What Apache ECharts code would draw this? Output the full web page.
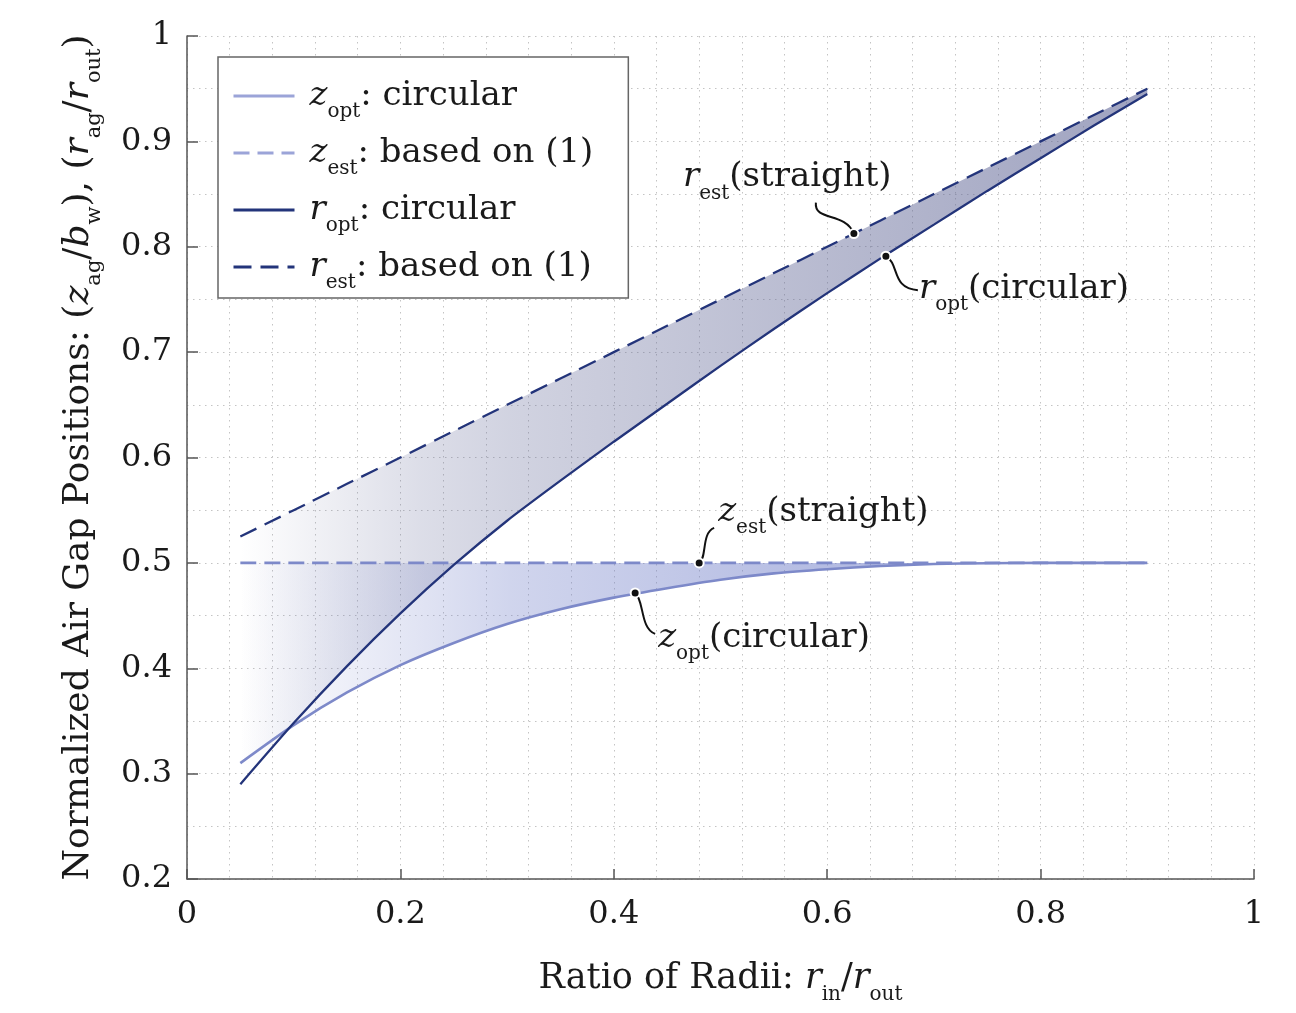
<!DOCTYPE html>
<html><head><meta charset="utf-8">
<script src="https://cdn.jsdelivr.net/npm/echarts@6/dist/echarts.min.js"></script>
<style>html,body{margin:0;padding:0;background:#fff}#c{width:1296px;height:1013px}</style>
</head><body><div id="c"></div>
<script>
// ---- data ----
const ratio = [0.05,0.10,0.15,0.20,0.25,0.30,0.35,0.40,0.45,0.50,0.55,0.60,0.65,0.70,0.75,0.80,0.85,0.90];
const zOpt  = [0.310,0.346,0.377,0.403,0.424,0.442,0.456,0.467,0.476,0.484,0.490,0.494,0.497,0.499,0.4997,0.500,0.500,0.500];
const zEst  = [0.500,0.500,0.500,0.500,0.500,0.500,0.500,0.500,0.500,0.500,0.500,0.500,0.500,0.500,0.500,0.500,0.500,0.500];
const rOpt  = [0.290,0.348,0.402,0.452,0.498,0.540,0.578,0.615,0.651,0.687,0.722,0.756,0.789,0.821,0.853,0.884,0.915,0.945];
const rEst  = [0.525,0.550,0.575,0.600,0.625,0.650,0.675,0.700,0.725,0.750,0.775,0.800,0.825,0.850,0.875,0.900,0.925,0.950];
const annotNames = ['rEst','rOpt','zEst','zOpt'];
const annotX = [0.625,0.655,0.48,0.42];
const annotY = [0.8125,0.791,0.500,0.4715];
const xTicks = [0,0.2,0.4,0.6,0.8,1];
const yTicks = [0.2,0.3,0.4,0.5,0.6,0.7,0.8,0.9,1];

// ---- styles ----
const FONT = 'DejaVu Serif';
const TXT = '#1a1a1a';
function mkRich(fs, sub, lh, pad) {
  return {
    t: {fontFamily: FONT, fontSize: fs, lineHeight: lh, color: TXT, fill: TXT},
    i: {fontFamily: FONT, fontSize: fs, fontStyle: 'italic', lineHeight: lh, color: TXT, fill: TXT},
    s: {fontFamily: FONT, fontSize: sub, lineHeight: 4, padding: [pad, 0, 0, 0], color: TXT, fill: TXT},
    g: {width: 10, fontSize: fs, lineHeight: lh}
  };
}
const richMain = mkRich(34, 20, 42, 32);
const richY = mkRich(36, 21, 44, 32);
const C_R = '#23347a', C_Z = '#7d89c9', C_ZL = '#9ba4d8';
const pair = (xs, ys) => xs.map((x, k) => [x, ys[k]]);
const legendText = {
  zopt: '{g|}{i|z}{s|opt}{t|: circular}',
  zest: '{g|}{i|z}{s|est}{t|: based on (1)}',
  ropt: '{g|}{i|r}{s|opt}{t|: circular}',
  rest: '{g|}{i|r}{s|est}{t|: based on (1)}'
};
const SM = 0.2;
const gridLine = {show: true, lineStyle: {color: '#c4c4c4', width: 1, type: [1.5, 4.5]}};

// band between an upper and a lower curve, drawn as one polygon with a horizontal gradient
function bandSeries(name, upper, lower, rgb, ramp) {
  return {
    name: name, type: 'custom', data: [[ratio[0], lower[0]]], z: 1, silent: true, clip: true,
    renderItem: function (params, api) {
      const pts = [];
      for (let k = 0; k < ratio.length; k++) pts.push(api.coord([ratio[k], upper[k]]));
      for (let k = ratio.length - 1; k >= 0; k--) pts.push(api.coord([ratio[k], lower[k]]));
      const x0 = api.coord([ratio[0], 0.5])[0];
      const x1 = api.coord([ratio[ratio.length - 1], 0.5])[0];
      return {
        type: 'polygon', shape: {points: pts},
        style: {fill: new echarts.graphic.LinearGradient(x0, 0, x1, 0,
          ramp.map(s => ({offset: s[0], color: 'rgba(' + rgb + ',' + s[1] + ')'})), true), stroke: null}
      };
    }
  };
}

const chart = echarts.init(document.getElementById('c'), null, {renderer: 'canvas'});
chart.setOption({
  animation: false,
  backgroundColor: '#fff',
  grid: {left: 187, right: 42, top: 36, bottom: 134, containLabel: false},
  xAxis: {
    type: 'value', min: 0, max: 1, interval: 0.2,
    axisLine: {show: true, onZero: false, lineStyle: {color: '#555', width: 1.5}},
    axisTick: {show: true, inside: true, length: 10, lineStyle: {color: '#555', width: 1.5}},
    axisLabel: {margin: 20, fontFamily: FONT, fontSize: 32, color: TXT,
      formatter: v => xTicks.indexOf(+v.toFixed(2)) >= 0 ? String(+v.toFixed(2)) : ''},
    splitLine: gridLine, minorTick: {show: false, splitNumber: 5}, minorSplitLine: gridLine,
    name: '{t|Ratio of Radii: }{i|r}{s|in}{t|/}{i|r}{s|out}',
    nameLocation: 'middle', nameGap: 79,
    nameTextStyle: {fontFamily: FONT, fontSize: 35, color: TXT, rich: mkRich(35, 20, 42, 32)}
  },
  yAxis: {
    type: 'value', min: 0.2, max: 1, interval: 0.1,
    axisLine: {show: true, onZero: false, lineStyle: {color: '#555', width: 1.5}},
    axisTick: {show: true, inside: true, length: 11, lineStyle: {color: '#555', width: 1.5}},
    axisLabel: {margin: 15, fontFamily: FONT, fontSize: 32, color: TXT,
      formatter: v => String(+v.toFixed(2))},
    splitLine: gridLine, minorTick: {show: false, splitNumber: 2}, minorSplitLine: gridLine,
    name: '{t|Normalized Air Gap Positions: (}{i|z}{s|ag}{t|/}{i|b}{s|w}{t|), (}{i|r}{s|ag}{t|/}{i|r}{s|out}{t|)}',
    nameLocation: 'middle', nameRotate: 90, nameGap: 86,
    nameTextStyle: {fontFamily: FONT, fontSize: 36, color: TXT, rich: richY}
  },
  legend: {
    data: [
      {name: 'zopt', lineStyle: {color: C_ZL, width: 3}},
      {name: 'zest', lineStyle: {color: C_ZL, width: 3}},
      {name: 'ropt', lineStyle: {width: 3}},
      {name: 'rest', lineStyle: {width: 3}}
    ],
    orient: 'vertical', left: 218, top: 57,
    padding: [13, 35, 5, 14], itemGap: 5, itemWidth: 61, itemHeight: 20,
    borderColor: '#666', borderWidth: 1.5, backgroundColor: '#fff', borderRadius: 0,
    lineStyle: {width: 3}, itemStyle: {opacity: 0, borderWidth: 0},
    textStyle: {fontFamily: FONT, fontSize: 34, color: TXT, rich: richMain},
    formatter: n => legendText[n],
    z: 20
  },
  series: [
    bandSeries('_zband', zEst, zOpt, '112,126,200', [[0, 0], [0.2, 0.21], [0.3, 0.33], [0.65, 0.52], [1, 0.64]]),
    bandSeries('_rband', rEst, rOpt, '96,102,150', [[0, 0], [0.2, 0.22], [0.3, 0.29], [0.65, 0.45], [1, 0.6]]),
    {name: 'zopt', type: 'line', data: pair(ratio, zOpt), smooth: SM, symbol: 'none', color: C_ZL,
      lineStyle: {color: C_Z, width: 2.6}, z: 3},
    {name: 'zest', type: 'line', data: pair(ratio, zEst), smooth: SM, symbol: 'none', color: C_ZL,
      lineStyle: {color: C_Z, width: 2.6, type: [16, 8]}, z: 3},
    {name: 'ropt', type: 'line', data: pair(ratio, rOpt), smooth: SM, symbol: 'none', color: C_R,
      lineStyle: {color: C_R, width: 2.3}, z: 3},
    {name: 'rest', type: 'line', data: pair(ratio, rEst), smooth: SM, symbol: 'none', color: C_R,
      lineStyle: {color: C_R, width: 2.3, type: [18, 9]}, z: 3},
    {name: '_annot', type: 'scatter', data: pair(annotX, annotY), symbolSize: 9,
      itemStyle: {color: '#111', borderColor: '#fff', borderWidth: 2, opacity: 1}, z: 5, silent: true}
  ]
});

// annotation labels with leader curves (pixel offsets from the anchor points)
const annotText = {
  rEst: '{i|r}{s|est}{t|(straight)}',
  rOpt: '{i|r}{s|opt}{t|(circular)}',
  zEst: '{i|z}{s|est}{t|(straight)}',
  zOpt: '{i|z}{s|opt}{t|(circular)}'
};
const annotLayout = {
  rEst: {lx: -171, ly: -56, end: [-38, -31], c1: [-9, -22], c2: [-40, -12]},
  rOpt: {lx: 33, ly: 33, end: [32, 34], c1: [14, 8], c2: [5, 32]},
  zEst: {lx: 19, ly: -51, end: [15, -35], c1: [8, -5], c2: [2, -30]},
  zOpt: {lx: 23, ly: 45, end: [20, 41], c1: [9, 7], c2: [5, 36]}
};
const gEls = [];
annotNames.forEach((n, k) => {
  const p = chart.convertToPixel({gridIndex: 0}, [annotX[k], annotY[k]]);
  const L = annotLayout[n];
  gEls.push({
    type: 'bezierCurve', z: 4, silent: true,
    shape: {x1: p[0], y1: p[1], cpx1: p[0] + L.c1[0], cpy1: p[1] + L.c1[1],
            cpx2: p[0] + L.c2[0], cpy2: p[1] + L.c2[1], x2: p[0] + L.end[0], y2: p[1] + L.end[1]},
    style: {stroke: '#111', lineWidth: 2, fill: null}
  });
  gEls.push({
    type: 'text', z: 6, silent: true, x: p[0] + L.lx, y: p[1] + L.ly,
    style: {text: annotText[n], rich: richMain, font: '34px "' + FONT + '"', fill: TXT,
            align: 'left', verticalAlign: 'middle'}
  });
});
chart.setOption({graphic: {elements: gEls}});
</script>
</body></html>
